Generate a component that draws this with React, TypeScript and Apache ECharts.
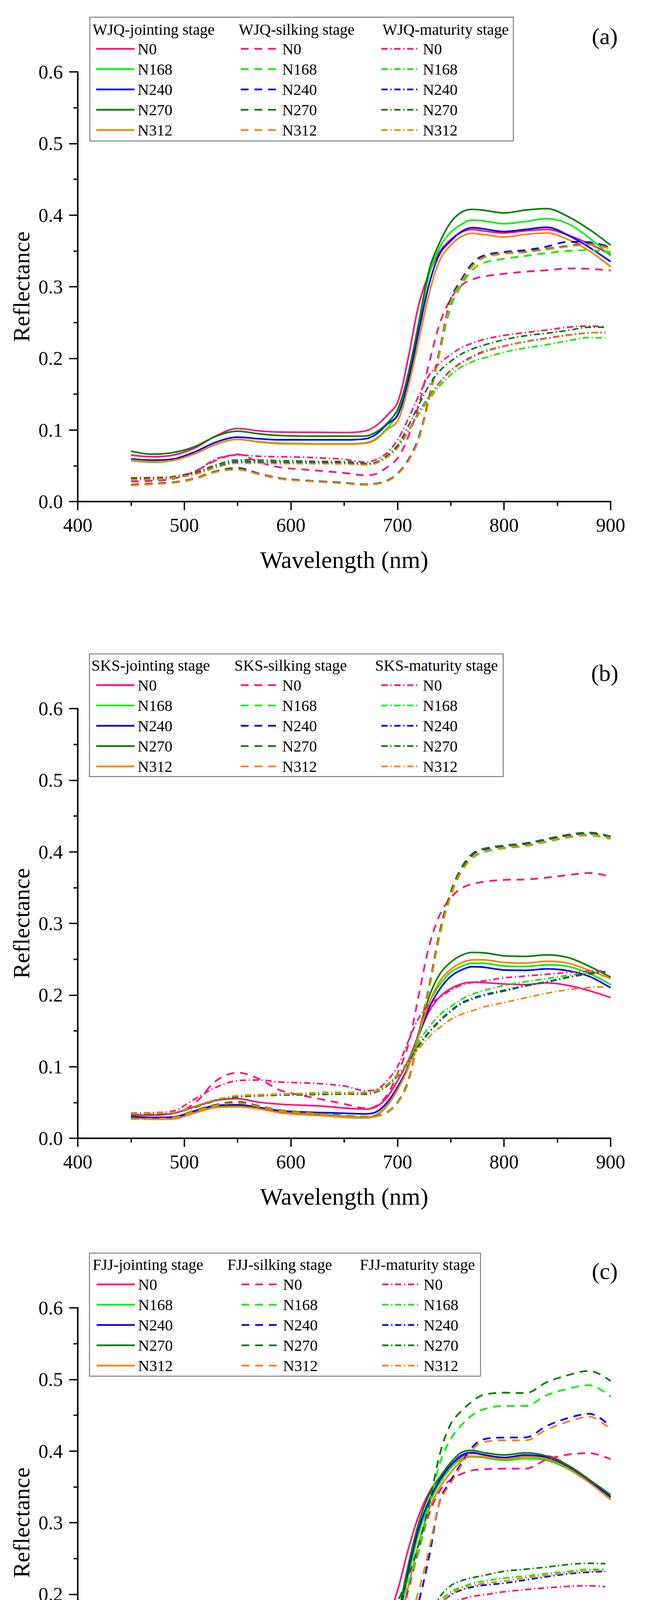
import React, { useEffect, useRef } from "react";
import * as echarts from "echarts";

// ---------- data ----------
const WL = [450, 470, 490, 510, 530, 550, 570, 590, 610, 630, 650, 670, 680, 690, 700, 710, 720, 730, 740, 750, 760, 770, 780, 800, 820, 840, 860, 880, 900];
const WL_MAT = [450, 470, 490, 510, 530, 550, 570, 590, 610, 630, 650, 670, 680, 690, 700, 710, 720, 730, 740, 750, 760, 770, 780, 800, 820, 840, 860, 880, 895];

const LEVELS = ["N0", "N168", "N240", "N270", "N312"];
const COLORS = ["#FF0F80", "#00F000", "#0000FF", "#007F00", "#FF8000"];
const SITES = ["WJQ", "SKS", "FJJ"];
const STAGES = ["jointing stage", "silking stage", "maturity stage"];
const PANEL_TAGS = ["(a)", "(b)", "(c)"];
const X_MIN = 400, X_MAX = 900, X_STEP = 100;
const Y_MIN = 0, Y_MAX = 0.6, Y_STEP = 0.1;

// Panel (a) WJQ
const A_J_N0 = [0.065, 0.0626, 0.065, 0.075, 0.092, 0.102, 0.0986, 0.097, 0.0968, 0.0966, 0.0964, 0.0986, 0.106, 0.120, 0.138, 0.200, 0.275, 0.320, 0.350, 0.366, 0.376, 0.380, 0.378, 0.375, 0.378, 0.380, 0.372, 0.360, 0.345];
const A_J_N168 = [0.057, 0.055, 0.0575, 0.067, 0.080, 0.087, 0.0835, 0.0815, 0.081, 0.0805, 0.0805, 0.082, 0.088, 0.102, 0.122, 0.172, 0.245, 0.318, 0.356, 0.376, 0.387, 0.393, 0.392, 0.388, 0.391, 0.395, 0.388, 0.368, 0.343];
const A_J_N240 = [0.0595, 0.0577, 0.0595, 0.0695, 0.0831, 0.0899, 0.0877, 0.0862, 0.0862, 0.0862, 0.0862, 0.0877, 0.094, 0.1077, 0.120, 0.168, 0.238, 0.305, 0.347, 0.364, 0.377, 0.3825, 0.381, 0.377, 0.380, 0.383, 0.372, 0.355, 0.335];
const A_J_N270 = [0.0704, 0.0662, 0.0686, 0.0768, 0.0913, 0.0982, 0.0946, 0.0922, 0.0915, 0.0913, 0.0913, 0.0915, 0.097, 0.109, 0.128, 0.178, 0.250, 0.325, 0.363, 0.390, 0.404, 0.408, 0.407, 0.403, 0.407, 0.409, 0.398, 0.380, 0.358];
const A_J_N312 = [0.0582, 0.0559, 0.0577, 0.0668, 0.0801, 0.0868, 0.0831, 0.0808, 0.0805, 0.0801, 0.0801, 0.0813, 0.0868, 0.1004, 0.112, 0.160, 0.225, 0.292, 0.338, 0.358, 0.370, 0.3745, 0.373, 0.3695, 0.373, 0.375, 0.366, 0.350, 0.328];

const A_S_N0 = [0.028, 0.029, 0.032, 0.0422, 0.0577, 0.0659, 0.055, 0.0477, 0.045, 0.0426, 0.040, 0.0368, 0.0386, 0.0477, 0.0604, 0.090, 0.135, 0.195, 0.250, 0.283, 0.302, 0.310, 0.314, 0.318, 0.321, 0.323, 0.3255, 0.325, 0.3225];
const A_S_N168 = [0.0232, 0.025, 0.0268, 0.0322, 0.0422, 0.0459, 0.0386, 0.0322, 0.0295, 0.0277, 0.0259, 0.0237, 0.025, 0.0286, 0.0386, 0.057, 0.088, 0.145, 0.210, 0.272, 0.302, 0.323, 0.333, 0.339, 0.343, 0.347, 0.350, 0.351, 0.3485];
const A_S_N240 = [0.0235, 0.0252, 0.027, 0.0325, 0.0425, 0.047, 0.039, 0.0325, 0.0298, 0.028, 0.0262, 0.024, 0.0252, 0.029, 0.039, 0.058, 0.090, 0.148, 0.215, 0.283, 0.310, 0.332, 0.343, 0.3485, 0.351, 0.356, 0.3626, 0.362, 0.3553];
const A_S_N270 = [0.0232, 0.025, 0.0268, 0.0322, 0.0422, 0.046, 0.0386, 0.0322, 0.0295, 0.0277, 0.0259, 0.0237, 0.025, 0.0286, 0.0386, 0.057, 0.089, 0.147, 0.214, 0.281, 0.308, 0.330, 0.341, 0.347, 0.349, 0.353, 0.357, 0.360, 0.355];
const A_S_N312 = [0.0225, 0.0243, 0.0262, 0.0316, 0.0415, 0.0445, 0.038, 0.0316, 0.029, 0.0272, 0.0254, 0.0232, 0.0245, 0.028, 0.038, 0.056, 0.087, 0.145, 0.212, 0.279, 0.306, 0.328, 0.340, 0.346, 0.348, 0.352, 0.356, 0.3587, 0.353];

const A_M_N0 = [0.0331, 0.0335, 0.035, 0.0422, 0.0595, 0.065, 0.0632, 0.0625, 0.062, 0.0608, 0.059, 0.055, 0.0586, 0.0677, 0.0859, 0.115, 0.148, 0.177, 0.194, 0.205, 0.215, 0.221, 0.226, 0.232, 0.236, 0.2395, 0.2435, 0.245, 0.244];
const A_M_N168 = [0.0305, 0.031, 0.033, 0.039, 0.0495, 0.0565, 0.056, 0.0555, 0.055, 0.0548, 0.0545, 0.0525, 0.0545, 0.063, 0.076, 0.097, 0.122, 0.143, 0.162, 0.177, 0.188, 0.195, 0.200, 0.2085, 0.2145, 0.219, 0.2245, 0.229, 0.2287];
const A_M_N240 = [0.031, 0.0315, 0.0335, 0.0385, 0.048, 0.055, 0.0548, 0.0542, 0.054, 0.0537, 0.0535, 0.052, 0.054, 0.062, 0.075, 0.098, 0.125, 0.147, 0.167, 0.183, 0.194, 0.202, 0.209, 0.217, 0.2235, 0.228, 0.2325, 0.2355, 0.236];
const A_M_N270 = [0.0322, 0.0325, 0.034, 0.0404, 0.0513, 0.0582, 0.058, 0.057, 0.0565, 0.056, 0.0559, 0.0531, 0.055, 0.064, 0.0786, 0.105, 0.135, 0.163, 0.183, 0.196, 0.206, 0.213, 0.218, 0.226, 0.2315, 0.235, 0.239, 0.2434, 0.2434];
const A_M_N312 = [0.0305, 0.031, 0.033, 0.038, 0.0475, 0.0535, 0.0535, 0.053, 0.053, 0.0528, 0.0525, 0.0513, 0.0535, 0.0615, 0.0745, 0.097, 0.124, 0.146, 0.166, 0.182, 0.193, 0.201, 0.208, 0.2165, 0.223, 0.2275, 0.232, 0.2355, 0.2359];

// Panel (b) SKS
const B_J_N0 = [0.0322, 0.0322, 0.0349, 0.0443, 0.0531, 0.0553, 0.0503, 0.0476, 0.0462, 0.0449, 0.0422, 0.0407, 0.044, 0.0567, 0.0804, 0.108, 0.145, 0.178, 0.198, 0.209, 0.2155, 0.218, 0.2175, 0.2155, 0.2145, 0.217, 0.2135, 0.206, 0.1965];
const B_J_N168 = [0.029, 0.0275, 0.028, 0.0365, 0.044, 0.0455, 0.042, 0.0365, 0.034, 0.033, 0.031, 0.0295, 0.033, 0.046, 0.069, 0.099, 0.146, 0.190, 0.215, 0.232, 0.240, 0.2445, 0.2445, 0.2405, 0.240, 0.2421, 0.240, 0.230, 0.2144];
const B_J_N240 = [0.0303, 0.029, 0.0298, 0.0385, 0.0458, 0.0467, 0.0431, 0.0385, 0.0367, 0.0358, 0.0349, 0.034, 0.0367, 0.0494, 0.0713, 0.100, 0.143, 0.183, 0.209, 0.226, 0.235, 0.2395, 0.239, 0.235, 0.2345, 0.2365, 0.234, 0.226, 0.2101];
const B_J_N270 = [0.029, 0.027, 0.0275, 0.036, 0.0435, 0.045, 0.0415, 0.036, 0.0335, 0.032, 0.0294, 0.0285, 0.032, 0.045, 0.068, 0.098, 0.148, 0.199, 0.230, 0.246, 0.2555, 0.2595, 0.2592, 0.2548, 0.254, 0.2562, 0.2524, 0.2401, 0.225];
const B_J_N312 = [0.0285, 0.0265, 0.027, 0.0355, 0.043, 0.044, 0.041, 0.0355, 0.033, 0.0315, 0.0295, 0.0288, 0.0325, 0.0455, 0.068, 0.098, 0.145, 0.190, 0.220, 0.236, 0.245, 0.249, 0.2492, 0.2455, 0.2445, 0.2472, 0.2445, 0.2344, 0.223];

const B_S_N0 = [0.033, 0.0335, 0.035, 0.0494, 0.0804, 0.0916, 0.083, 0.067, 0.060, 0.054, 0.048, 0.042, 0.045, 0.060, 0.090, 0.130, 0.200, 0.270, 0.313, 0.336, 0.349, 0.355, 0.358, 0.3608, 0.3614, 0.364, 0.3675, 0.3705, 0.3656];
const B_S_N168 = [0.0272, 0.0272, 0.029, 0.038, 0.046, 0.0498, 0.0445, 0.0385, 0.036, 0.0335, 0.031, 0.0295, 0.0305, 0.0355, 0.049, 0.078, 0.142, 0.210, 0.285, 0.338, 0.372, 0.391, 0.399, 0.405, 0.408, 0.414, 0.420, 0.423, 0.418];
const B_S_N240 = [0.0276, 0.0276, 0.0294, 0.0385, 0.0467, 0.0505, 0.045, 0.039, 0.0365, 0.034, 0.0315, 0.030, 0.031, 0.036, 0.050, 0.080, 0.145, 0.213, 0.289, 0.342, 0.376, 0.3956, 0.403, 0.408, 0.411, 0.417, 0.423, 0.4256, 0.4207];
const B_S_N270 = [0.0278, 0.0278, 0.0296, 0.0388, 0.047, 0.051, 0.0452, 0.0392, 0.0366, 0.0341, 0.0316, 0.0301, 0.0311, 0.0361, 0.050, 0.080, 0.146, 0.215, 0.291, 0.344, 0.378, 0.397, 0.404, 0.409, 0.412, 0.418, 0.424, 0.427, 0.4215];
const B_S_N312 = [0.027, 0.027, 0.0288, 0.0378, 0.0458, 0.0492, 0.0442, 0.0383, 0.0358, 0.0333, 0.0308, 0.0295, 0.0305, 0.0355, 0.049, 0.078, 0.143, 0.211, 0.286, 0.339, 0.373, 0.392, 0.400, 0.406, 0.409, 0.415, 0.421, 0.424, 0.419];

const B_M_N0 = [0.0353, 0.0358, 0.0385, 0.0549, 0.0713, 0.0804, 0.0813, 0.0785, 0.0775, 0.076, 0.073, 0.0665, 0.068, 0.080, 0.100, 0.135, 0.168, 0.187, 0.197, 0.207, 0.214, 0.2175, 0.2195, 0.224, 0.2265, 0.229, 0.2315, 0.2333, 0.2336];
const B_M_N168 = [0.035, 0.0355, 0.0367, 0.0449, 0.054, 0.0595, 0.0607, 0.0618, 0.0625, 0.064, 0.064, 0.064, 0.0667, 0.0749, 0.0895, 0.108, 0.135, 0.156, 0.173, 0.184, 0.194, 0.201, 0.206, 0.2135, 0.2185, 0.223, 0.2275, 0.231, 0.2324];
const B_M_N240 = [0.034, 0.0345, 0.036, 0.0435, 0.053, 0.058, 0.0595, 0.0605, 0.061, 0.0615, 0.062, 0.062, 0.065, 0.073, 0.087, 0.105, 0.130, 0.149, 0.165, 0.178, 0.189, 0.195, 0.200, 0.2065, 0.213, 0.2185, 0.225, 0.230, 0.2324];
const B_M_N270 = [0.0338, 0.0343, 0.0358, 0.0432, 0.0527, 0.0577, 0.0592, 0.0602, 0.0607, 0.0612, 0.0617, 0.0617, 0.0647, 0.0727, 0.0865, 0.104, 0.129, 0.148, 0.164, 0.177, 0.188, 0.194, 0.199, 0.2055, 0.2125, 0.218, 0.2245, 0.2295, 0.2318];
const B_M_N312 = [0.0345, 0.035, 0.0362, 0.0445, 0.0537, 0.0595, 0.0605, 0.0615, 0.0622, 0.0628, 0.063, 0.0635, 0.066, 0.074, 0.088, 0.104, 0.125, 0.142, 0.155, 0.166, 0.173, 0.178, 0.183, 0.1895, 0.196, 0.2025, 0.2075, 0.2105, 0.2116];

// Panel (c) FJJ
const C_J_N0 = [0.078, 0.0757, 0.079, 0.0935, 0.1135, 0.1235, 0.123, 0.1241, 0.1248, 0.1266, 0.1275, 0.1308, 0.139, 0.163, 0.205, 0.262, 0.310, 0.343, 0.364, 0.380, 0.392, 0.397, 0.395, 0.391, 0.393, 0.393, 0.380, 0.360, 0.335];
const C_J_N168 = [0.065, 0.062, 0.064, 0.0765, 0.095, 0.1035, 0.100, 0.099, 0.0985, 0.0985, 0.0985, 0.0995, 0.105, 0.120, 0.158, 0.225, 0.285, 0.328, 0.356, 0.376, 0.389, 0.392, 0.391, 0.387, 0.3894, 0.387, 0.375, 0.356, 0.3346];
const C_J_N240 = [0.069, 0.0645, 0.066, 0.078, 0.096, 0.1045, 0.102, 0.1015, 0.1015, 0.1017, 0.1017, 0.102, 0.108, 0.124, 0.163, 0.232, 0.292, 0.332, 0.360, 0.380, 0.394, 0.398, 0.395, 0.391, 0.3945, 0.391, 0.378, 0.358, 0.336];
const C_J_N270 = [0.0662, 0.0635, 0.0653, 0.0771, 0.0953, 0.104, 0.1008, 0.0993, 0.099, 0.0986, 0.0986, 0.0999, 0.106, 0.125, 0.170, 0.240, 0.300, 0.340, 0.364, 0.384, 0.398, 0.401, 0.398, 0.3945, 0.3974, 0.393, 0.380, 0.360, 0.3389];
const C_J_N312 = [0.0599, 0.0562, 0.0581, 0.068, 0.0844, 0.092, 0.0889, 0.0877, 0.0871, 0.0866, 0.0866, 0.088, 0.0944, 0.110, 0.148, 0.210, 0.272, 0.320, 0.350, 0.370, 0.386, 0.393, 0.392, 0.3888, 0.392, 0.389, 0.376, 0.356, 0.3318];

const C_S_N0 = [0.078, 0.080, 0.0826, 0.099, 0.128, 0.139, 0.132, 0.1262, 0.1235, 0.1208, 0.1172, 0.1117, 0.113, 0.128, 0.152, 0.205, 0.262, 0.313, 0.345, 0.360, 0.368, 0.373, 0.3745, 0.3754, 0.3754, 0.388, 0.395, 0.397, 0.3888];
const C_S_N168 = [0.1253, 0.1266, 0.1284, 0.138, 0.158, 0.1662, 0.159, 0.1539, 0.152, 0.1499, 0.1472, 0.1444, 0.1462, 0.1572, 0.178, 0.215, 0.260, 0.325, 0.384, 0.417, 0.436, 0.450, 0.458, 0.463, 0.463, 0.478, 0.487, 0.492, 0.4758];
const C_S_N240 = [0.0699, 0.072, 0.0708, 0.079, 0.0935, 0.1004, 0.0953, 0.0899, 0.0871, 0.0862, 0.0848, 0.0822, 0.0826, 0.0917, 0.115, 0.145, 0.190, 0.255, 0.332, 0.359, 0.383, 0.405, 0.416, 0.4188, 0.419, 0.435, 0.446, 0.452, 0.4345];
const C_S_N270 = [0.1353, 0.1362, 0.138, 0.149, 0.1653, 0.1744, 0.168, 0.1635, 0.1622, 0.1599, 0.1572, 0.1544, 0.1572, 0.169, 0.190, 0.225, 0.270, 0.328, 0.397, 0.438, 0.456, 0.469, 0.478, 0.4815, 0.481, 0.496, 0.506, 0.512, 0.4978];
const C_S_N312 = [0.0844, 0.087, 0.0826, 0.0935, 0.108, 0.1153, 0.111, 0.1065, 0.104, 0.1026, 0.1017, 0.0999, 0.1026, 0.1153, 0.130, 0.160, 0.205, 0.265, 0.330, 0.355, 0.380, 0.402, 0.412, 0.415, 0.415, 0.430, 0.441, 0.448, 0.430];

const C_M_N0 = [0.0399, 0.0405, 0.0426, 0.0517, 0.0653, 0.0753, 0.0772, 0.077, 0.0768, 0.0768, 0.0762, 0.0717, 0.0735, 0.0881, 0.110, 0.130, 0.150, 0.166, 0.181, 0.189, 0.193, 0.197, 0.199, 0.2035, 0.2065, 0.209, 0.211, 0.2119, 0.2105];
const C_M_N168 = [0.0382, 0.0387, 0.041, 0.0482, 0.061, 0.0682, 0.0692, 0.0688, 0.0686, 0.0686, 0.0683, 0.0664, 0.070, 0.0845, 0.103, 0.124, 0.148, 0.165, 0.190, 0.2034, 0.210, 0.215, 0.218, 0.2225, 0.2255, 0.229, 0.232, 0.2348, 0.2348];
const C_M_N240 = [0.0378, 0.0383, 0.0405, 0.0478, 0.0608, 0.0685, 0.0698, 0.070, 0.070, 0.0702, 0.070, 0.0675, 0.0705, 0.0845, 0.102, 0.122, 0.145, 0.163, 0.186, 0.199, 0.206, 0.210, 0.2125, 0.2155, 0.220, 0.2245, 0.2285, 0.231, 0.2319];
const C_M_N270 = [0.038, 0.0385, 0.0408, 0.048, 0.0608, 0.068, 0.069, 0.0686, 0.0684, 0.0684, 0.0681, 0.0662, 0.0699, 0.0844, 0.103, 0.125, 0.150, 0.168, 0.197, 0.212, 0.219, 0.223, 0.226, 0.232, 0.235, 0.238, 0.2415, 0.2433, 0.2427];
const C_M_N312 = [0.0362, 0.0367, 0.039, 0.046, 0.0588, 0.066, 0.0668, 0.0665, 0.0664, 0.0664, 0.0662, 0.0645, 0.068, 0.082, 0.100, 0.120, 0.143, 0.162, 0.187, 0.200, 0.208, 0.212, 0.215, 0.2185, 0.223, 0.2265, 0.230, 0.2325, 0.2333];

const PANEL_DATA = [
  [[A_J_N0, A_J_N168, A_J_N240, A_J_N270, A_J_N312], [A_S_N0, A_S_N168, A_S_N240, A_S_N270, A_S_N312], [A_M_N0, A_M_N168, A_M_N240, A_M_N270, A_M_N312]],
  [[B_J_N0, B_J_N168, B_J_N240, B_J_N270, B_J_N312], [B_S_N0, B_S_N168, B_S_N240, B_S_N270, B_S_N312], [B_M_N0, B_M_N168, B_M_N240, B_M_N270, B_M_N312]],
  [[C_J_N0, C_J_N168, C_J_N240, C_J_N270, C_J_N312], [C_S_N0, C_S_N168, C_S_N240, C_S_N270, C_S_N312], [C_M_N0, C_M_N168, C_M_N240, C_M_N270, C_M_N312]],
];

// ---------- layout ----------
const W = 1651, H = 4662;
const FONT = '"Liberation Serif", "Times New Roman", serif';
const GRID_LEFT = 199, GRID_W = 1364, GRID_H = 1100;
const GRID_TOPS = [184, 1814, 3348];
const BOXES = [
  { x: 230, y: 44, w: 1084, h: 317 },
  { x: 229, y: 1674, w: 1059, h: 314 },
  { x: 229, y: 3208, w: 1001, h: 315 },
];
const TITLE_Y = [75, 1703, 3237];
const TITLE_X = [[237, 611, 979], [234, 600, 960], [237, 582, 921]];
const LEG_X = [[244, 614, 974], [244, 614, 974], [245, 616, 976]];
const LEG_ROW0 = [125, 1754, 3288];
const TAG_Y = [93, 1723, 3254];
const LINE_TYPES: any[] = ["solid", [20, 15], [16, 7, 3, 7]];
const LINE_WIDTHS = [4.2, 4.5, 4.2];

export default function App() {
  const ref = useRef<HTMLDivElement>(null);
  useEffect(() => {
    document.body.style.margin = "0";
    const chart = echarts.init(ref.current!, null, { renderer: "svg", width: W, height: H });

    const grid: any[] = [], xAxis: any[] = [], yAxis: any[] = [], series: any[] = [], legend: any[] = [], graphic: any[] = [];

    for (let p = 0; p < 3; p++) {
      grid.push({ left: GRID_LEFT, top: GRID_TOPS[p], width: GRID_W, height: GRID_H });
      xAxis.push({
        type: "value", gridIndex: p, min: X_MIN, max: X_MAX, interval: X_STEP,
        name: "Wavelength (nm)", nameLocation: "middle", nameGap: 118,
        nameTextStyle: { fontFamily: FONT, fontSize: 62, color: "#000" },
        axisLine: { show: true, onZero: false, lineStyle: { color: "#000", width: 4 } },
        axisTick: { show: true, inside: false, length: 22, lineStyle: { color: "#000", width: 3.5 } },
        minorTick: { show: true, splitNumber: 2, length: 11, lineStyle: { color: "#000", width: 3.5 } },
        splitLine: { show: false },
        axisLabel: { fontFamily: FONT, fontSize: 50, color: "#000", margin: 35 },
      });
      yAxis.push({
        type: "value", gridIndex: p, min: Y_MIN, max: Y_MAX, interval: Y_STEP,
        name: "Reflectance", nameLocation: "middle", nameGap: 114,
        nameTextStyle: { fontFamily: FONT, fontSize: 60, color: "#000" },
        axisLine: { show: true, lineStyle: { color: "#000", width: 4 } },
        axisTick: { show: true, inside: false, length: 22, lineStyle: { color: "#000", width: 3.5 } },
        minorTick: { show: true, splitNumber: 2, length: 11, lineStyle: { color: "#000", width: 3.5 } },
        splitLine: { show: false },
        axisLabel: { fontFamily: FONT, fontSize: 50, color: "#000", margin: 38, formatter: (v: number) => v.toFixed(1) },
      });

      const b = BOXES[p];
      graphic.push({
        type: "rect", shape: { x: b.x, y: b.y, width: b.w, height: b.h },
        style: { fill: "none", stroke: "#7f7f7f", lineWidth: 2.5 }, z: 1,
      });
      for (let s = 0; s < 3; s++) {
        graphic.push({
          type: "text", x: TITLE_X[p][s], y: TITLE_Y[p],
          style: { text: `${SITES[p]}-${STAGES[s]}`, fontFamily: FONT, fontSize: 40, fill: "#000", align: "left", verticalAlign: "middle" },
        });
      }
      graphic.push({
        type: "text", x: 1548, y: TAG_Y[p],
        style: { text: PANEL_TAGS[p], fontFamily: FONT, fontSize: 60, fill: "#000", align: "center", verticalAlign: "middle" },
      });

      for (let s = 0; s < 3; s++) {
        const names: string[] = [];
        const xs = s === 2 ? WL_MAT : WL;
        for (let l = 0; l < 5; l++) {
          const name = `${LEVELS[l]}|${p}${s}`;
          names.push(name);
          const vals = PANEL_DATA[p][s][l];
          series.push({
            name, type: "line", xAxisIndex: p, yAxisIndex: p,
            data: xs.map((x, i) => [x, vals[i]]),
            symbol: "none", showSymbol: false, smooth: 0.35,
            color: COLORS[l],
            lineStyle: { color: COLORS[l], width: LINE_WIDTHS[s], type: LINE_TYPES[s] },
            emphasis: { disabled: true },
            z: 3,
          });
        }
        legend.push({
          orient: "vertical", left: LEG_X[p][s], top: LEG_ROW0[p] - 20,
          itemWidth: 98, itemHeight: 4, itemGap: 12, padding: 0,
          selectedMode: false, data: names,
          itemStyle: { opacity: 0 },
          lineStyle: { width: 4.5 },
          formatter: (n: string) => n.split("|")[0],
          textStyle: { fontFamily: FONT, fontSize: 40, color: "#000", lineHeight: 40, padding: [0, 0, 0, 3] },
        });
      }
    }

    chart.setOption({
      animation: false,
      backgroundColor: "#fff",
      grid, xAxis, yAxis, series, legend, graphic,
    });
    return () => chart.dispose();
  }, []);
  return <div ref={ref} style={{ width: W, height: H }} />;
}
